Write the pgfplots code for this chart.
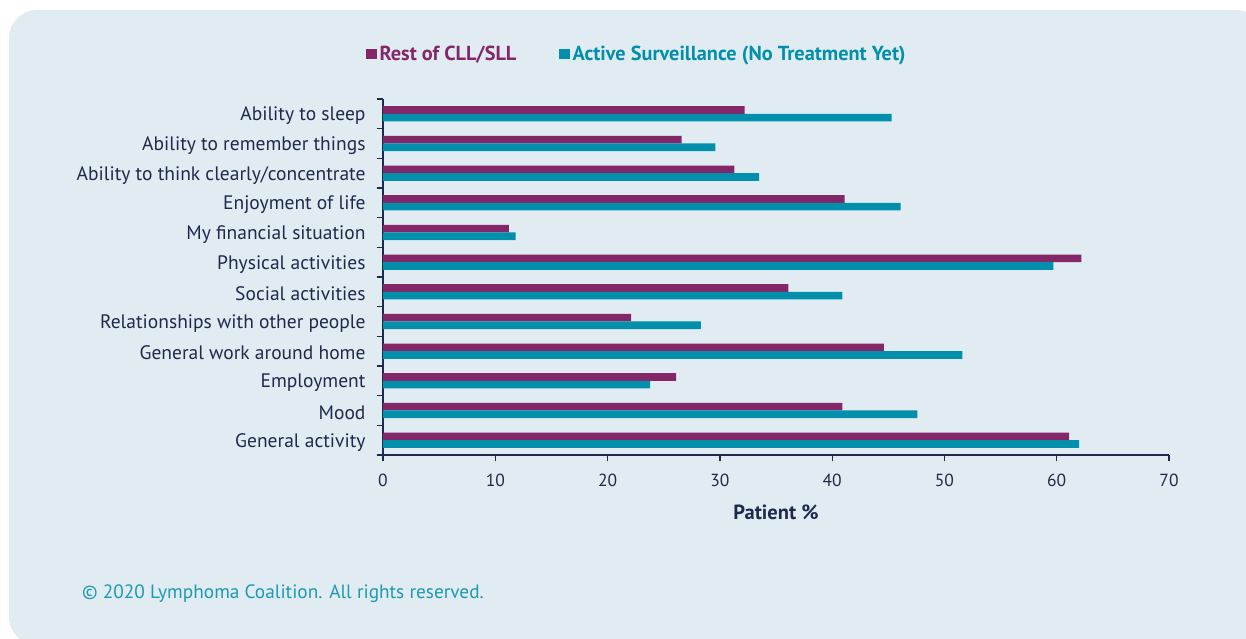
\documentclass[border=0pt]{standalone}
\usepackage{pgfplots}
\pgfplotsset{compat=1.18}
\usepackage{fontspec}
\setmainfont{PT Sans}
\definecolor{bg}{HTML}{E1ECF2}
\definecolor{navy}{HTML}{1D2A4D}
\definecolor{purp}{HTML}{832769}
\definecolor{tealc}{HTML}{018FAB}
\definecolor{copyc}{HTML}{1B9AB4}
\begin{document}
\begin{tikzpicture}[x=1bp,y=1bp]
\useasboundingbox (0,0) rectangle (1246,639);
\begin{scope}
\clip (0,0) rectangle (1246,639);
\fill[bg, rounded corners=28bp] (9,-6) rectangle (1264,629);
\end{scope}
\begin{axis}[
  at={(383bp,184bp)}, anchor=south west,
  scale only axis, width=786bp, height=356bp,
  xbar, bar width=7.6bp,
  xmin=0, xmax=70, ymin=-0.5, ymax=11.5,
  axis x line*=bottom, axis y line*=left,
  axis line style={navy, line width=1.3bp, -},
  tick align=outside,
  major tick length=6bp, minor tick length=6.5bp,
  tick style={navy, line width=1.3bp},
  major y tick style={draw=none},
  xtick={0,10,...,70},
  ytick={0,...,11},
  minor ytick={-0.5,0.5,...,11.5},
  yticklabels={General activity, Mood, {Employment\hspace{4bp}}, General work around home, Relationships with other people, Social activities, Physical activities, My financial situation, Enjoyment of life, Ability to think clearly/concentrate, Ability to remember things, Ability to sleep},
  /pgf/number format/assume math mode=true,
  yticklabel style={font=\fontsize{19.5bp}{22bp}\selectfont, text=navy, xshift=-8bp, yshift=-2bp},
  xticklabel style={font=\fontsize{17.5bp}{20bp}\selectfont, text=navy, yshift=-10bp},
  xlabel={Patient \%},
  xlabel style={at={(axis description cs:0.5,-0.16)}, anchor=center, font=\bfseries\fontsize{20.5bp}{22bp}\selectfont, text=navy},
  legend columns=2,
  legend style={at={(axis description cs:-0.0216,1.126)}, anchor=west, draw=none, fill=none, inner sep=0pt,
    font=\bfseries\fontsize{20.3bp}{22bp}\selectfont,
    nodes={inner xsep=2.8bp},
    /tikz/every even column/.append style={column sep=40bp}},
  legend image code/.code={\fill[#1,draw=none] (0bp,-5.3bp) rectangle (10.6bp,5.3bp);},
]
\addplot[fill=purp, draw=none, bar shift=3.8bp] coordinates {
(61.1,0) (40.9,1) (26.1,2) (44.6,3) (22.1,4) (36.1,5) (62.2,6) (11.2,7) (41.1,8) (31.3,9) (26.6,10) (32.2,11)};
\addlegendentry{\textcolor{purp}{Rest of CLL/SLL}}
\addplot[fill=tealc, draw=none, bar shift=-3.8bp] coordinates {
(62.0,0) (47.6,1) (23.8,2) (51.6,3) (28.3,4) (40.9,5) (59.7,6) (11.8,7) (46.1,8) (33.5,9) (29.6,10) (45.3,11)};
\addlegendentry{\textcolor{tealc}{Active Surveillance (No Treatment Yet)}}
\end{axis}
\node[anchor=base west, text=copyc, font=\fontsize{19.3bp}{22bp}\selectfont, inner sep=0pt] at (82,40) {© 2020 Lymphoma Coalition. All rights reserved.};
\end{tikzpicture}
\end{document}
